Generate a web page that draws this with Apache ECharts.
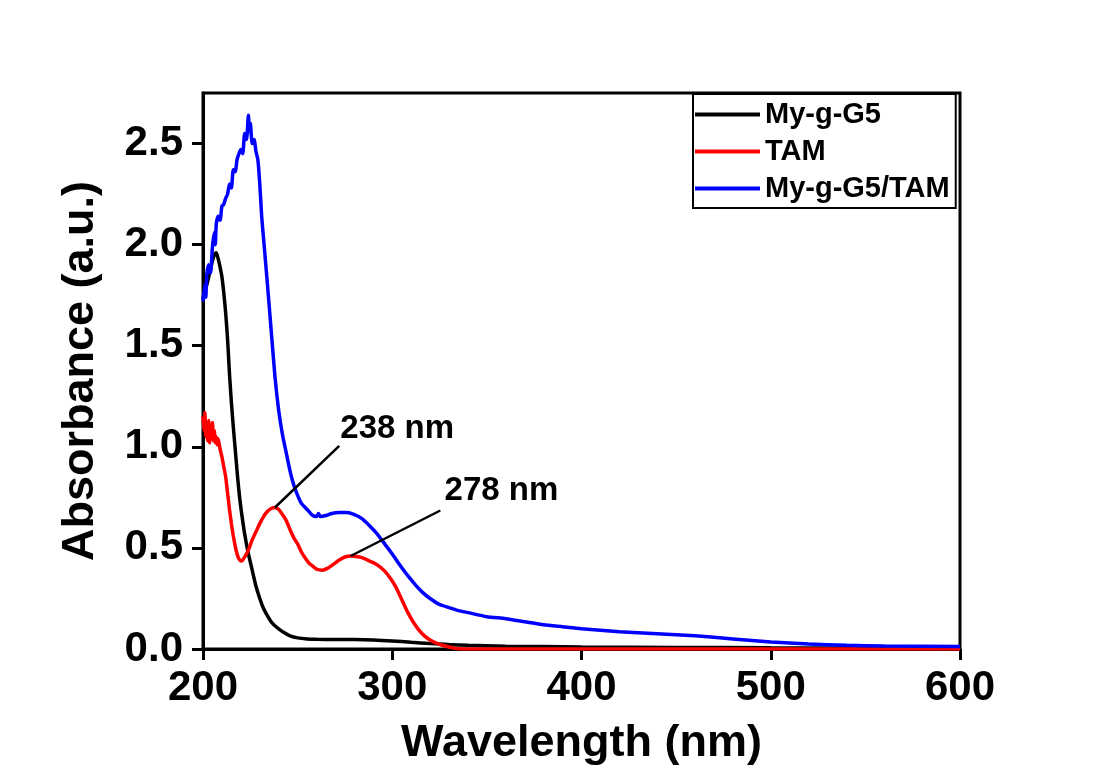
<!DOCTYPE html>
<html>
<head>
<meta charset="utf-8">
<script src="https://cdn.jsdelivr.net/npm/echarts@6/dist/echarts.min.js"></script>
<style>
  html, body { margin: 0; padding: 0; background: #fff; }
  #chart { width: 1100px; height: 771px; }
</style>
</head>
<body>
<div id="chart"></div>
<script>
'use strict';

// My-g-G5
var blackWl = [200, 201, 202, 203, 204, 205, 206, 207, 208, 209, 210, 211, 212, 213, 214, 215, 216, 217, 218, 219, 220, 222, 224, 226, 228, 230, 232, 234, 236, 238, 240, 243, 246, 250, 255, 260, 270, 280, 290, 300, 310, 320, 330, 340, 360, 400, 450, 500, 600];
var blackAbs = [1.73, 1.78, 1.80, 1.84, 1.88, 1.92, 1.95, 1.96, 1.93, 1.89, 1.84, 1.76, 1.66, 1.53, 1.36, 1.22, 1.10, 0.99, 0.88, 0.78, 0.70, 0.57, 0.47, 0.39, 0.31, 0.25, 0.20, 0.165, 0.135, 0.115, 0.10, 0.08, 0.065, 0.055, 0.05, 0.048, 0.047, 0.047, 0.045, 0.04, 0.033, 0.027, 0.022, 0.018, 0.014, 0.01, 0.008, 0.006, 0.005];

// TAM
var redWl = [200, 200.5, 201, 201.5, 202, 202.5, 203, 203.5, 204, 204.5, 205, 205.5, 206, 206.5, 207, 207.5, 208, 209, 210, 211, 212, 213, 214, 215, 216, 217, 218, 219, 220, 221, 222, 224, 226, 228, 230, 232, 234, 236, 238, 240, 242, 244, 246, 248, 250, 252, 254, 256, 258, 260, 263, 266, 269, 272, 275, 278, 281, 284, 287, 290, 293, 296, 299, 302, 305, 308, 311, 314, 317, 320, 323, 326, 330, 334, 340, 400, 500, 600];
var redAbs = [1.15, 1.08, 1.17, 1.05, 1.12, 1.03, 1.13, 1.02, 1.10, 1.04, 1.12, 1.03, 1.08, 1.02, 1.05, 1.01, 1.04, 0.99, 0.95, 0.90, 0.85, 0.77, 0.69, 0.62, 0.56, 0.51, 0.47, 0.445, 0.435, 0.44, 0.455, 0.49, 0.54, 0.58, 0.62, 0.655, 0.68, 0.695, 0.70, 0.69, 0.665, 0.635, 0.59, 0.55, 0.52, 0.48, 0.45, 0.425, 0.41, 0.395, 0.39, 0.40, 0.42, 0.44, 0.455, 0.46, 0.458, 0.452, 0.44, 0.427, 0.41, 0.385, 0.35, 0.305, 0.245, 0.185, 0.135, 0.095, 0.065, 0.045, 0.03, 0.02, 0.01, 0.003, 0, 0, 0, 0];

// My-g-G5/TAM
var blueWl = [200, 201, 201.5, 202, 203, 204, 205, 206, 206.5, 207, 208, 209, 210, 211, 212, 213, 214, 215, 216, 217, 218, 219, 220, 221, 222, 223, 224, 224.5, 225, 226, 227, 228, 229, 230, 231, 232, 233, 234, 236, 238, 240, 242, 244, 246, 248, 250, 252, 254, 256, 258, 260, 261, 262, 265, 268, 272, 276, 280, 284, 288, 292, 296, 300, 304, 308, 312, 316, 320, 325, 330, 335, 340, 350, 360, 370, 380, 390, 400, 420, 440, 460, 480, 500, 520, 540, 560, 600];
var blueAbs = [1.72, 1.80, 1.74, 1.85, 1.90, 1.86, 1.99, 2.06, 2.00, 2.10, 2.14, 2.12, 2.19, 2.20, 2.23, 2.25, 2.30, 2.28, 2.37, 2.36, 2.42, 2.45, 2.47, 2.45, 2.55, 2.52, 2.64, 2.56, 2.60, 2.50, 2.52, 2.46, 2.42, 2.30, 2.14, 2.03, 1.92, 1.81, 1.58, 1.35, 1.18, 1.06, 0.97, 0.88, 0.81, 0.76, 0.72, 0.70, 0.68, 0.66, 0.655, 0.67, 0.655, 0.66, 0.67, 0.675, 0.675, 0.665, 0.645, 0.61, 0.57, 0.52, 0.47, 0.415, 0.365, 0.32, 0.28, 0.25, 0.22, 0.205, 0.19, 0.18, 0.16, 0.15, 0.135, 0.12, 0.11, 0.10, 0.085, 0.075, 0.065, 0.05, 0.035, 0.025, 0.018, 0.015, 0.012];

var yTicks = [0, 0.5, 1.0, 1.5, 2.0, 2.5];

// peak annotations: [peak wl, peak abs, leader end wl, leader end abs, text wl, text abs, text]
var peakNotes = [
	[238, 0.70, 272, 1.005, 302.6, 1.09, '238 nm'],
	[278, 0.46, 325.4, 0.685, 357.7, 0.78, '278 nm']
];

function pairs(xs, ys) {
	return xs.map(function (x, i) { return [x, ys[i]]; });
}

var fontFam = '"Liberation Sans", Arial, sans-serif';

var myChart = echarts.init(document.getElementById('chart'));
var option = {
	backgroundColor: '#fff',
	animation: false,
	color: ['#000000', '#ff0000', '#0000ff'],
	grid: {
		left: 203,
		right: 140,
		top: 93,
		bottom: 121,
		show: true,
		borderColor: '#000',
		borderWidth: 3,
		backgroundColor: 'rgba(0,0,0,0)'
	},
	legend: {
		data: ['My-g-G5', 'TAM', 'My-g-G5/TAM'],
		orient: 'vertical',
		left: 693,
		top: 94,
		icon: 'rect',
		itemWidth: 65,
		itemHeight: 4,
		itemGap: 8,
		padding: [6, 6, 5, 2],
		borderColor: '#000',
		borderWidth: 2,
		textStyle: {
			fontFamily: fontFam,
			fontWeight: 'bold',
			fontSize: 29,
			color: '#000'
		}
	},
	xAxis: {
		type: 'value',
		min: 200,
		max: 600,
		interval: 100,
		name: 'Wavelength (nm)',
		nameLocation: 'middle',
		nameGap: 72,
		nameTextStyle: { fontFamily: fontFam, fontWeight: 'bold', fontSize: 45, color: '#000' },
		splitLine: { show: false },
		axisLine: { lineStyle: { color: '#000', width: 3 } },
		axisTick: { inside: false, length: 11, lineStyle: { color: '#000', width: 3 } },
		axisLabel: { margin: 18, fontFamily: fontFam, fontWeight: 'bold', fontSize: 42, color: '#000' }
	},
	yAxis: {
		type: 'value',
		min: 0,
		max: 2.75,
		interval: 0.5,
		name: 'Absorbance (a.u.)',
		nameLocation: 'middle',
		nameGap: 100,
		nameTextStyle: { fontFamily: fontFam, fontWeight: 'bold', fontSize: 45, color: '#000' },
		splitLine: { show: false },
		axisLine: { lineStyle: { color: '#000', width: 3 } },
		axisTick: { inside: false, length: 11, customValues: yTicks, lineStyle: { color: '#000', width: 3 } },
		axisLabel: {
			margin: 20,
			customValues: yTicks,
			fontFamily: fontFam,
			fontWeight: 'bold',
			fontSize: 42,
			color: '#000',
			formatter: function (v) { return v.toFixed(1); }
		}
	},
	series: [{
		name: 'My-g-G5',
		type: 'line',
		symbol: 'none',
		smooth: 0.2,
		lineStyle: { width: 3.5 },
		data: pairs(blackWl, blackAbs)
	}, {
		name: 'TAM',
		type: 'line',
		symbol: 'none',
		smooth: 0.2,
		lineStyle: { width: 3.5 },
		data: pairs(redWl, redAbs),
		markLine: {
			silent: true,
			symbol: 'none',
			label: { show: false },
			lineStyle: { color: '#000', width: 2.5, type: 'solid' },
			data: peakNotes.map(function (p) {
				return [{ coord: [p[0], p[1]] }, { coord: [p[2], p[3]] }];
			})
		},
		markPoint: {
			silent: true,
			symbol: 'circle',
			symbolSize: 0,
			label: {
				show: true,
				position: 'inside',
				fontFamily: fontFam,
				fontWeight: 'bold',
				fontSize: 33,
				color: '#000'
			},
			data: peakNotes.map(function (p) {
				return { coord: [p[4], p[5]], value: p[6], label: { formatter: p[6] } };
			})
		}
	}, {
		name: 'My-g-G5/TAM',
		type: 'line',
		symbol: 'none',
		smooth: 0.2,
		lineStyle: { width: 3.5 },
		data: pairs(blueWl, blueAbs)
	}]
};
myChart.setOption(option);
</script>
</body>
</html>
